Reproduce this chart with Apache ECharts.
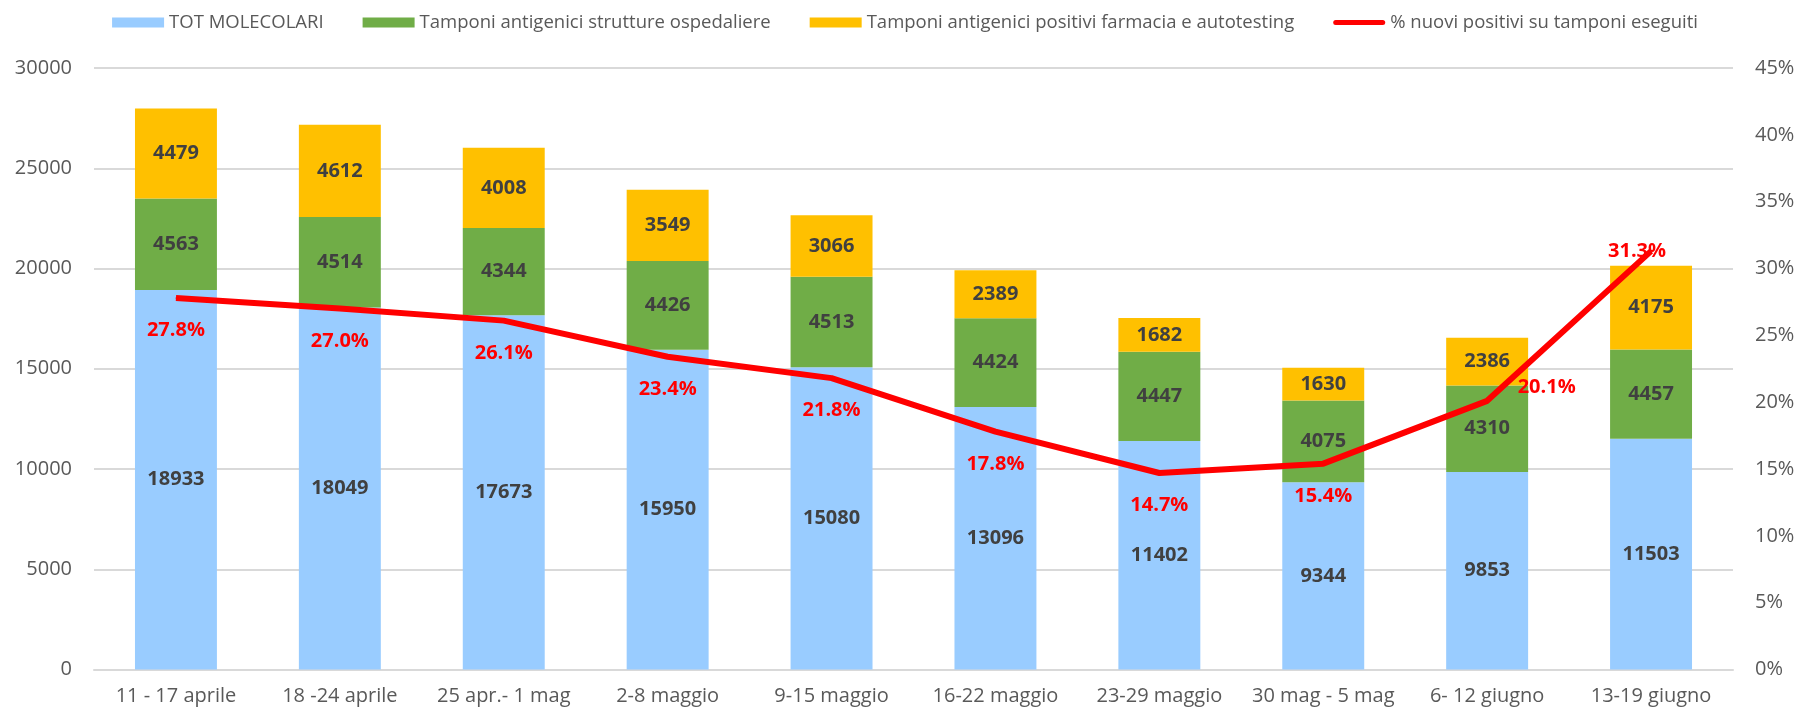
<!DOCTYPE html>
<html>
<head>
<meta charset="utf-8">
<script src="https://cdn.jsdelivr.net/npm/echarts@6/dist/echarts.min.js"></script>
<style>
html,body{margin:0;padding:0;background:#fff;}
#chart{width:1810px;height:714px;}
</style>
</head>
<body>
<div id="chart"></div>
<script>
var categories = ['11 - 17 aprile','18 -24 aprile','25 apr.- 1 mag','2-8 maggio','9-15 maggio','16-22 maggio','23-29 maggio','30 mag - 5 mag','6- 12 giugno','13-19 giugno'];
var molecolari = [18933, 18049, 17673, 15950, 15080, 13096, 11402, 9344, 9853, 11503];
var ospedaliere = [4563, 4514, 4344, 4426, 4513, 4424, 4447, 4075, 4310, 4457];
var farmacia = [4479, 4612, 4008, 3549, 3066, 2389, 1682, 1630, 2386, 4175];
var percentuale = [27.8, 27.0, 26.1, 23.4, 21.8, 17.8, 14.7, 15.4, 20.1, 31.3];
var leftTicks = [0, 5000, 10000, 15000, 20000, 25000, 30000];
var rightTicks = [0, 5, 10, 15, 20, 25, 30, 35, 40, 45];

var names = ['TOT MOLECOLARI','Tamponi antigenici strutture ospedaliere','Tamponi antigenici positivi farmacia e autotesting','% nuovi positivi su tamponi eseguiti'];
var FONT = '"Open Sans", "Noto Sans", sans-serif';

var barLabel = {show:true, position:'inside', color:'#404040', fontFamily:FONT, fontWeight:'bold', fontSize:20};

function lineData(){
  var n = percentuale.length;
  return percentuale.map(function(v,i){
    var lab;
    if (i === n-1) lab = {position:'inside', offset:[-14,0]};
    else if (i === n-2) lab = {position:'right', distance:30, offset:[0,-14]};
    else lab = {position:'bottom', distance:22};
    return {value:v, label:lab};
  });
}

var chart = echarts.init(document.getElementById('chart'), null, {renderer:'canvas'});
chart.setOption({
  animation:false,
  backgroundColor:'#ffffff',
  textStyle:{fontFamily:FONT},
  legend:{
    top:8, left:'center',
    itemWidth:52, itemHeight:10, itemGap:39,
    textStyle:{fontFamily:FONT, fontSize:18.5, color:'#595959'},
    data:[
      {name:names[0], icon:'rect'},
      {name:names[1], icon:'rect'},
      {name:names[2], icon:'rect'},
      {name:names[3], icon:'path://M2.5,0 L49.5,0 A2.5,2.5 0 0 1 49.5,5 L2.5,5 A2.5,2.5 0 0 1 2.5,0 Z', itemStyle:{color:'#FF0000'}}
    ]
  },
  grid:{left:94, right:77, top:68, bottom:44.5, containLabel:false},
  xAxis:{
    type:'category', data:categories,
    axisTick:{show:false},
    axisLine:{lineStyle:{color:'#D9D9D9', width:2}},
    axisLabel:{fontFamily:FONT, fontSize:20, color:'#595959', margin:17, interval:0}
  },
  yAxis:[
    {type:'value', min:leftTicks[0], max:leftTicks[leftTicks.length-1], interval:leftTicks[1]-leftTicks[0],
     axisLine:{show:false}, axisTick:{show:false},
     splitLine:{lineStyle:{color:'#D9D9D9', width:2}},
     axisLabel:{fontFamily:FONT, fontSize:20, color:'#595959', margin:22, formatter:function(v){return String(v);}}},
    {type:'value', min:rightTicks[0], max:rightTicks[rightTicks.length-1], interval:rightTicks[1]-rightTicks[0],
     axisLine:{show:false}, axisTick:{show:false}, splitLine:{show:false},
     axisLabel:{fontFamily:FONT, fontSize:20, color:'#595959', margin:22, formatter:'{value}%'}}
  ],
  series:[
    {name:names[0], type:'bar', stack:'tot', data:molecolari, barWidth:'50%', itemStyle:{color:'#99CCFF'}, label:barLabel},
    {name:names[1], type:'bar', stack:'tot', data:ospedaliere, itemStyle:{color:'#70AD47'}, label:barLabel},
    {name:names[2], type:'bar', stack:'tot', data:farmacia, itemStyle:{color:'#FFC000'}, label:barLabel},
    {name:names[3], type:'line', yAxisIndex:1, data:lineData(), z:5,
     symbol:'circle', symbolSize:1, showSymbol:true,
     itemStyle:{color:'#FF0000'},
     lineStyle:{color:'#FF0000', width:6},
     label:{show:true, color:'#FF0000', fontFamily:FONT, fontWeight:'bold', fontSize:20,
            formatter:function(p){return p.value.toFixed(1)+'%';}}}
  ]
});
</script>
</body>
</html>
